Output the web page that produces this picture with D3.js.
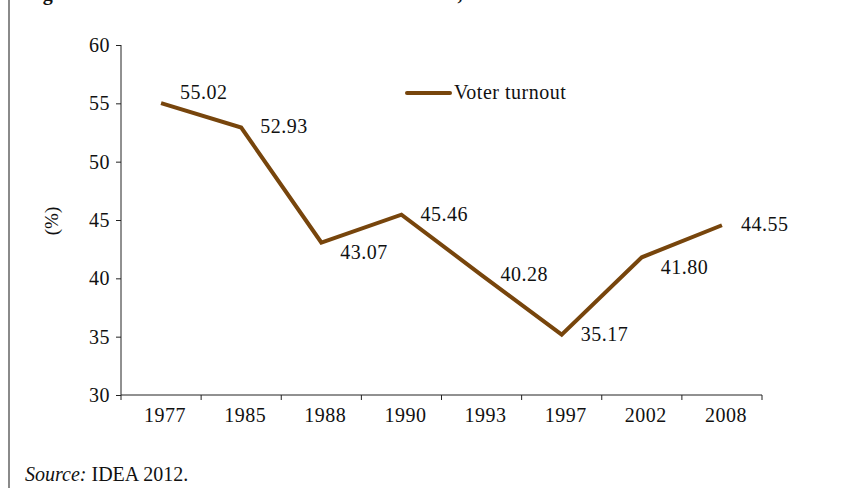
<!DOCTYPE html>
<html>
<head>
<meta charset="utf-8">
<script src="https://cdn.jsdelivr.net/npm/d3@7"></script>
<style>
  html, body { margin: 0; padding: 0; background: #fff; }
  svg { display: block; }
  svg text { font-family: "Liberation Serif", "DejaVu Serif", serif !important; fill: #111; }
  .lab { letter-spacing: 0.5px; }
</style>
</head>
<body>
<script>
// Election years and turnout (%)
const years = ["1977", "1985", "1988", "1990", "1993", "1997", "2002", "2008"];
const turnout = [55.02, 52.93, 43.07, 45.46, 40.28, 35.17, 41.80, 44.55];
// Where each value label sits relative to its point
const labelSide = ["above", "mid", "below", "mid", "mid", "mid", "below", "mid"];
const yTicks = [30, 35, 40, 45, 50, 55, 60];
const seriesName = "Voter turnout";
const lineColor = "#77450c";

const W = 854, H = 488;
const svg = d3.select("body").append("svg").attr("width", W).attr("height", H);

// Page frame rule on the left
svg.append("line")
  .attr("x1", 9).attr("x2", 9).attr("y1", 0).attr("y2", H)
  .attr("stroke", "#8a8a8a").attr("stroke-width", 2);

// Caption (runs off the top of the page)
svg.append("text")
  .attr("x", 25).attr("y", 0)
  .style("font-weight", "bold").style("font-size", "20px")
  .text("Figure 4: Voter turnout in the elections in Pakistan, 1977–2008");

const plotL = 121, plotR = 762, plotT = 45, plotB = 395;

const x = d3.scaleBand().domain(years).range([plotL, plotR]);
const y = d3.scaleLinear().domain([30, 60]).range([plotB, plotT]);

// Y axis
const yAxis = svg.append("g")
  .attr("transform", `translate(${plotL},0)`)
  .call(d3.axisLeft(y).tickValues(yTicks).tickSize(5).tickPadding(6));
yAxis.attr("font-family", null).attr("font-size", null);
yAxis.selectAll("text").attr("class", "lab").style("font-size", "20px").attr("fill", "#111");
yAxis.selectAll("line, path").attr("stroke", "#222").attr("stroke-width", 1);
yAxis.select("path").attr("d", `M0,${plotT}V${plotB}`);

// X axis: ticks at category boundaries
const xAxis = svg.append("g")
  .attr("transform", `translate(0,${plotB})`)
  .call(d3.axisBottom(x).tickSize(0).tickPadding(13));
xAxis.attr("font-family", null).attr("font-size", null);
xAxis.select("path").attr("d", `M${plotL},0H${plotR}`).attr("stroke", "#222");
xAxis.selectAll("text").attr("class", "lab").style("font-size", "20px")
  .attr("fill", "#111").attr("dx", 4);
xAxis.selectAll(".bound")
  .data(d3.range(years.length + 1))
  .enter().append("line")
  .attr("class", "bound")
  .attr("x1", i => plotL + i * x.step()).attr("x2", i => plotL + i * x.step())
  .attr("y1", 0).attr("y2", 5)
  .attr("stroke", "#222");

// Y axis title
svg.append("text")
  .attr("transform", `translate(58,${(plotT + plotB) / 2 + 1}) rotate(-90)`)
  .attr("text-anchor", "middle")
  .style("font-size", "19px")
  .text("(%)");

// Turnout line
const pts = years.map((yr, i) => ({ yr, v: turnout[i], side: labelSide[i] }));
const cx = d => x(d.yr) + x.bandwidth() / 2;

svg.append("path")
  .datum(pts)
  .attr("fill", "none")
  .attr("stroke", lineColor)
  .attr("stroke-width", 4)
  .attr("stroke-linejoin", "miter")
  .attr("d", d3.line().x(cx).y(d => y(d.v)));

// Value labels
const shift = { above: -10.5, mid: 0, below: 10.5 };
svg.selectAll(".val")
  .data(pts)
  .enter().append("text")
  .attr("class", "val lab")
  .attr("x", d => cx(d) + 19)
  .attr("y", d => y(d.v) + 6 + shift[d.side])
  .style("font-size", "20px")
  .text(d => d.v.toFixed(2));

// Legend
svg.append("line")
  .attr("x1", 407).attr("x2", 450).attr("y1", 93).attr("y2", 93)
  .attr("stroke", lineColor).attr("stroke-width", 4).attr("stroke-linecap", "round");
svg.append("text")
  .attr("class", "lab")
  .attr("x", 454).attr("y", 98.5)
  .style("font-size", "20px")
  .text(seriesName);

// Source note
const src = svg.append("text").attr("x", 25).attr("y", 481).style("font-size", "20px");
src.append("tspan").style("font-style", "italic").text("Source:");
src.append("tspan").text(" IDEA 2012.");
</script>
</body>
</html>
